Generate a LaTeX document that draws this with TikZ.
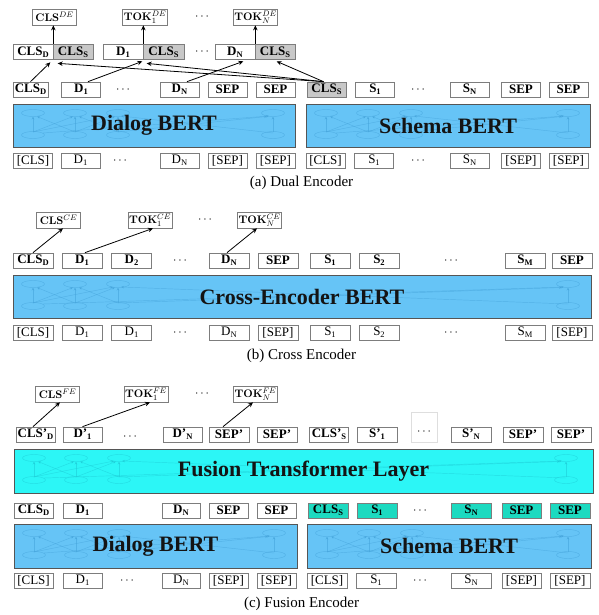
\documentclass[tikz,border=0pt]{standalone}
\usepackage[no-math]{fontspec}
\setmainfont{Liberation Serif}
\usetikzlibrary{arrows.meta,calc}
\definecolor{encblue}{RGB}{102,196,246}
\definecolor{fuscyan}{RGB}{44,246,246}
\definecolor{tealc}{RGB}{28,218,192}
\definecolor{catgray}{RGB}{200,200,200}
\definecolor{boxgray}{RGB}{125,125,125}
\definecolor{encborder}{RGB}{85,85,85}
\definecolor{netblue}{RGB}{70,165,220}
\definecolor{netcyan}{RGB}{30,205,215}
\definecolor{txtdark}{RGB}{20,20,20}
\newcommand{\tsub}[1]{\raisebox{-0.35ex}{\fontsize{8.5}{8.5}\selectfont #1}}
\newcommand{\netdeco}[4]{%
  \begin{scope}[draw=#4, line width=0.45pt, draw opacity=0.6]
    \foreach \cx in {#1+20,#1+62,#1+105,#3} {
      \draw ({\cx},{#2+9}) ellipse (11.5 and 3.5);
      \draw ({\cx},{#2+31}) ellipse (11.5 and 3.5);
      \draw[-{Stealth[length=3pt,width=2.5pt]}] ({\cx},{#2+28}) -- ({\cx},{#2+12.5});
    }
    \draw[-{Stealth[length=3pt,width=2.5pt]}] ({#1+20},{#2+28}) -- ({#1+60},{#2+12.5});
    \draw[-{Stealth[length=3pt,width=2.5pt]}] ({#1+62},{#2+28}) -- ({#1+24},{#2+12.5});
    \draw[-{Stealth[length=3pt,width=2.5pt]}] ({#1+20},{#2+28}) -- ({#1+100},{#2+12});
    \draw[-{Stealth[length=3pt,width=2.5pt]}] ({#1+62},{#2+28}) -- ({#1+102},{#2+12.5});
    \draw[-{Stealth[length=3pt,width=2.5pt]}] ({#1+105},{#2+28}) -- ({#1+66},{#2+12.5});
    \draw[-{Stealth[length=3pt,width=2.5pt]}] ({#1+30},{#2+29}) -- ({#3-4},{#2+12});
    \draw[-{Stealth[length=3pt,width=2.5pt]}] ({#1+105},{#2+28}) -- ({#3-6},{#2+12.5});
    \draw[-{Stealth[length=3pt,width=2.5pt]}] ({#3},{#2+29}) -- ({#1+108},{#2+12});
  \end{scope}}
\tikzset{
  bx/.style={draw=boxgray, line width=0.7pt, fill=white, minimum width=39pt, minimum height=15pt, inner sep=0pt, font=\fontsize{13}{13}\selectfont},
  bb/.style={bx, font=\fontsize{13}{13}\selectfont\bfseries},
  gr/.style={bb, fill=catgray},
  tl/.style={bb, fill=tealc},
  ob/.style={draw=boxgray, line width=0.7pt, fill=white, minimum width=44pt, minimum height=16pt, inner sep=1pt, font=\fontsize{11}{11}\selectfont},
  dt/.style={inner sep=0pt, font=\fontsize{13}{13}\selectfont},
  enc/.style={draw=encborder, line width=0.8pt, fill=encblue, inner sep=0pt},
  enclabel/.style={inner sep=0pt, text=txtdark, font=\fontsize{22}{22}\selectfont\bfseries},
  captxt/.style={inner sep=0pt, font=\fontsize{15}{15}\selectfont},
  arr/.style={-{Stealth[length=5pt,width=4.5pt]}, line width=0.8pt}
}
\begin{document}
\begin{tikzpicture}[x=1pt,y=-1pt]
\useasboundingbox (0,0) rectangle (598,615);

% ================= (a) Dual Encoder =================
\node[ob] (oA1) at (54.5,17) {$\mathbf{CLS}^{DE}$};
\node[ob] (oA2) at (145,17) {$\mathbf{TOK}_1^{DE}$};
\node[dt] (dA0) at (202,17) {$\cdots$};
\node[ob] (oA3) at (255.5,17) {$\mathbf{TOK}_N^{DE}$};

\node[bb, minimum width=40pt] (c0a) at (33,52) {CLS\tsub{D}};
\node[gr, minimum width=40pt] (c0b) at (73,52) {CLS\tsub{S}};
\node[bb, minimum width=40pt] (c1a) at (123,52) {D\tsub{1}};
\node[gr, minimum width=41pt] (c1b) at (163.5,52) {CLS\tsub{S}};
\node[dt] (dA1) at (202,52) {$\cdots$};
\node[bb, minimum width=40pt] (c2a) at (235,52) {D\tsub{N}};
\node[gr, minimum width=40pt] (c2b) at (275,52) {CLS\tsub{S}};

\node[bb, minimum width=35pt] (a0) at (30.5,89.5) {CLS\tsub{D}};
\node[bb] (a1) at (81,89.5) {D\tsub{1}};
\node[dt] (dA2) at (123,89.5) {$\cdots$};
\node[bb] (a2) at (179.5,89.5) {D\tsub{N}};
\node[bb] (a3) at (227.5,89.5) {SEP};
\node[bb] (a4) at (275.5,89.5) {SEP};
\node[gr] (a5) at (326.5,89.5) {CLS\tsub{S}};
\node[bb] (a6) at (375,89.5) {S\tsub{1}};
\node[dt] (dA3) at (418,89.5) {$\cdots$};
\node[bb] (a7) at (469.5,89.5) {S\tsub{N}};
\node[bb] (a8) at (521,89.5) {SEP};
\node[bb] (a9) at (568.5,89.5) {SEP};

\node[enc, minimum width=282pt, minimum height=43pt] (encA1) at (154,125.5) {};
\node[enc, minimum width=284pt, minimum height=43pt] (encA2) at (448,125.5) {};
\netdeco{13}{104}{273}{netblue}
\netdeco{306}{104}{568}{netblue}
\node[enclabel] (lA1) at (encA1.center) {Dialog BERT};
\node[enclabel] (lA2) at (encA2.center) {Schema BERT};

\node[bx] (i0) at (33,160.5) {[CLS]};
\node[bx] (i1) at (80.5,160.5) {D\tsub{1}};
\node[dt] (dA4) at (120,160.5) {$\cdots$};
\node[bx] (i2) at (179.5,160.5) {D\tsub{N}};
\node[bx] (i3) at (227.5,160.5) {[SEP]};
\node[bx] (i4) at (275.5,160.5) {[SEP]};
\node[bx] (i5) at (325.5,160.5) {[CLS]};
\node[bx] (i6) at (374,160.5) {S\tsub{1}};
\node[dt] (dA5) at (418,160.5) {$\cdots$};
\node[bx] (i7) at (469.5,160.5) {S\tsub{N}};
\node[bx] (i8) at (521,160.5) {[SEP]};
\node[bx] (i9) at (568.5,160.5) {[SEP]};

\node[captxt] (capA) at (301.5,183) {(a) Dual Encoder};

\draw[arr] (c0a.north east) -- (c0a.north east |- oA1.south);
\draw[arr] (c1a.north east) -- (c1a.north east |- oA2.south);
\draw[arr] (c2a.north east) -- (c2a.north east |- oA3.south);
\draw[arr] (a0.north) -- ($(c0a.south east)+(-3,2.5)$);
\draw[arr] ($(a1.north)+(7,0)$) -- ($(c1a.south east)+(-1,1.5)$);
\draw[arr] ($(a2.north)+(7.5,0)$) -- ($(c2a.south east)+(-12,1.5)$);
\draw[arr] ($(a5.north)+(-3,0)$) -- ($(c0b.south west)+(5,3.5)$);
\draw[arr] ($(a5.north)+(-3,0)$) -- ($(c1b.south west)+(4,3.5)$);
\draw[arr] ($(a5.north)+(-3,0)$) -- ($(c2b.south west)+(22,1.5)$);

% ================= (b) Cross Encoder =================
\node[ob] (oB1) at (58.5,220) {$\mathbf{CLS}^{CE}$};
\node[ob] (oB2) at (150,220) {$\mathbf{TOK}_1^{CE}$};
\node[dt] (dB0) at (205,220) {$\cdots$};
\node[ob] (oB3) at (259.5,220) {$\mathbf{TOK}_N^{CE}$};

\node[bb, minimum width=40pt] (b0) at (33,260.5) {CLS\tsub{D}};
\node[bb, minimum width=40pt] (b1) at (82,260.5) {D\tsub{1}};
\node[bb, minimum width=40pt] (b2) at (131.5,260.5) {D\tsub{2}};
\node[dt] (dB1) at (180,260.5) {$\cdots$};
\node[bb, minimum width=40pt] (b3) at (229,260.5) {D\tsub{N}};
\node[bb, minimum width=40pt] (b4) at (278,260.5) {SEP};
\node[bb, minimum width=40pt] (b5) at (330,260.5) {S\tsub{1}};
\node[bb, minimum width=40pt] (b6) at (379,260.5) {S\tsub{2}};
\node[dt] (dB2) at (451,260.5) {$\cdots$};
\node[bb, minimum width=40pt] (b7) at (525,260.5) {S\tsub{M}};
\node[bb, minimum width=40pt] (b8) at (572,260.5) {SEP};

\node[enc, minimum width=578pt, minimum height=43pt] (encB) at (302,296.5) {};
\netdeco{13}{275}{568}{netblue}
\node[enclabel] (lB) at (encB.center) {Cross-Encoder BERT};

\node[bx, minimum width=40pt] (j0) at (33,332.5) {[CLS]};
\node[bx, minimum width=40pt] (j1) at (82,332.5) {D\tsub{1}};
\node[bx, minimum width=40pt] (j2) at (131.5,332.5) {D\tsub{1}};
\node[dt] (dB3) at (180,332.5) {$\cdots$};
\node[bx, minimum width=40pt] (j3) at (229,332.5) {D\tsub{N}};
\node[bx, minimum width=40pt] (j4) at (278,332.5) {[SEP]};
\node[bx, minimum width=40pt] (j5) at (330,332.5) {S\tsub{1}};
\node[bx, minimum width=40pt] (j6) at (379,332.5) {S\tsub{2}};
\node[dt] (dB4) at (451,332.5) {$\cdots$};
\node[bx, minimum width=40pt] (j7) at (525,332.5) {S\tsub{M}};
\node[bx, minimum width=40pt] (j8) at (572,332.5) {[SEP]};

\node[captxt] (capB) at (301.5,355.5) {(b) Cross Encoder};

\draw[arr] (b0.north) -- ($(oB1.south)+(4.5,0)$);
\draw[arr] ($(b1.north)+(3,0)$) -- ($(oB2.south)+(3,0)$);
\draw[arr] ($(b3.north)+(-2,0)$) -- ($(oB3.south)+(-2.5,0)$);

% ================= (c) Fusion Encoder =================
\node[ob] (oC1) at (57.5,394) {$\mathbf{CLS}^{FE}$};
\node[ob] (oC2) at (146,394) {$\mathbf{TOK}_1^{FE}$};
\node[dt] (dC0) at (202,394) {$\cdots$};
\node[ob] (oC3) at (255.5,394) {$\mathbf{TOK}_N^{FE}$};

\node[bb] (e0) at (35.5,434.5) {CLS'\tsub{D}};
\node[bb] (e1) at (82.5,434.5) {D'\tsub{1}};
\node[dt] (dC1) at (130,437) {$\cdots$};
\node[bb] (e2) at (182.5,434.5) {D'\tsub{N}};
\node[bb, minimum width=40pt] (e3) at (229,434.5) {SEP'};
\node[bb, minimum width=40pt] (e4) at (277,434.5) {SEP'};
\node[bb] (e5) at (329,434.5) {CLS'\tsub{S}};
\node[bb, minimum width=40pt] (e6) at (377,434.5) {S'\tsub{1}};
\node[draw=catgray!60, line width=0.5pt, minimum width=26pt, minimum height=30pt, inner sep=0pt] (edb) at (424,427) {};
\node[dt] (dC2) at (424,432) {$\cdots$};
\node[bb, minimum width=40pt] (e7) at (471,434.5) {S'\tsub{N}};
\node[bb, minimum width=40pt] (e8) at (523,434.5) {SEP'};
\node[bb, minimum width=40pt] (e9) at (571,434.5) {SEP'};

\node[enc, fill=fuscyan, minimum width=579pt, minimum height=44pt] (encC) at (303.5,471) {};
\netdeco{14}{449}{566}{netcyan}
\node[enclabel] (lC) at (encC.center) {Fusion Transformer Layer};

\node[bb] (f0) at (33.5,510.5) {CLS\tsub{D}};
\node[bb] (f1) at (82.5,510.5) {D\tsub{1}};
\node[bb, minimum width=38pt] (f2) at (181,510.5) {D\tsub{N}};
\node[bb] (f3) at (228.5,510.5) {SEP};
\node[bb] (f4) at (276.5,510.5) {SEP};
\node[tl, minimum width=40pt] (f5) at (328,510.5) {CLS\tsub{S}};
\node[tl, minimum width=40pt] (f6) at (377,510.5) {S\tsub{1}};
\node[dt] (dC3) at (420,510.5) {$\cdots$};
\node[tl, minimum width=40pt] (f7) at (471,510.5) {S\tsub{N}};
\node[tl] (f8) at (521.5,510.5) {SEP};
\node[tl, minimum width=40pt] (f9) at (570,510.5) {SEP};

\node[enc, minimum width=283pt, minimum height=44pt] (encC1) at (155.5,546) {};
\node[enc, minimum width=284pt, minimum height=44pt] (encC2) at (449,546) {};
\netdeco{14}{524}{274}{netblue}
\netdeco{307}{524}{568}{netblue}
\node[enclabel] (lC1) at (encC1.center) {Dialog BERT};
\node[enclabel] (lC2) at (encC2.center) {Schema BERT};

\node[bx] (g0) at (33.5,580.5) {[CLS]};
\node[bx] (g1) at (82.5,580.5) {D\tsub{1}};
\node[dt] (dC4) at (127,580.5) {$\cdots$};
\node[bx, minimum width=38pt] (g2) at (181,580.5) {D\tsub{N}};
\node[bx] (g3) at (228.5,580.5) {[SEP]};
\node[bx] (g4) at (276.5,580.5) {[SEP]};
\node[bx, minimum width=40pt] (g5) at (327,580.5) {[CLS]};
\node[bx, minimum width=40pt] (g6) at (376,580.5) {S\tsub{1}};
\node[dt] (dC5) at (420,580.5) {$\cdots$};
\node[bx, minimum width=40pt] (g7) at (471,580.5) {S\tsub{N}};
\node[bx] (g8) at (521.5,580.5) {[SEP]};
\node[bx, minimum width=40pt] (g9) at (570,580.5) {[SEP]};

\node[captxt] (capC) at (301.5,603.5) {(c) Fusion Encoder};

\draw[arr] ($(e0.north)+(-2.5,0)$) -- ($(oC1.south)+(2.5,0)$);
\draw[arr] (e1.north) -- ($(oC2.south)+(4,0)$);
\draw[arr] ($(e3.north)+(-6,0)$) -- ($(oC3.south)+(-2.5,0)$);
\end{tikzpicture}
\end{document}
